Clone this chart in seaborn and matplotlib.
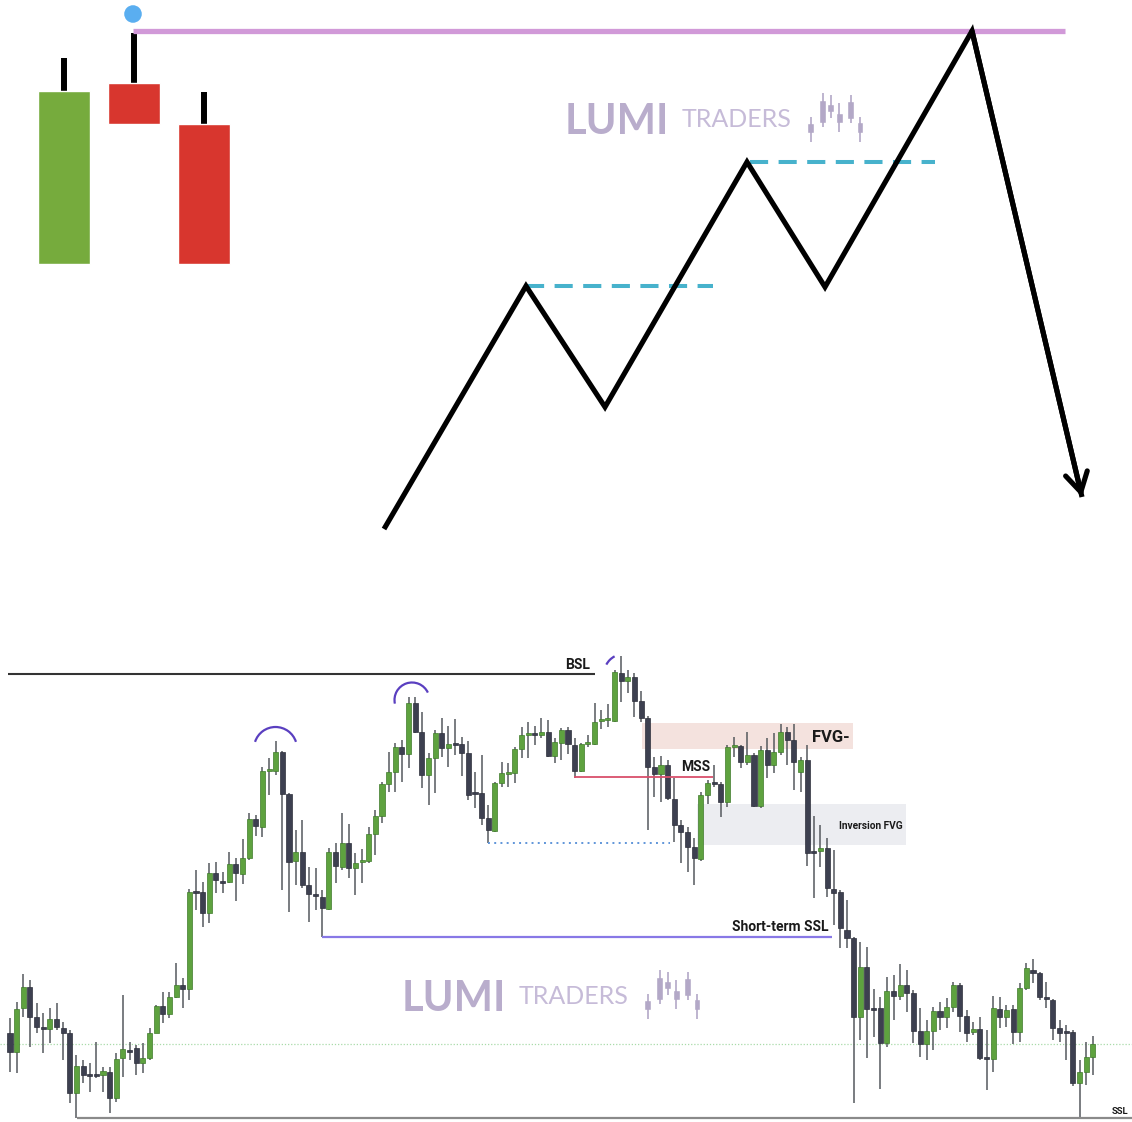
import matplotlib
matplotlib.use("Agg")
import matplotlib.pyplot as plt
import seaborn as sns
import numpy as np
import pandas as pd
from matplotlib.patches import Arc, Rectangle

# ---------------- top schematic data ----------------
sketch_x = [64, 134, 204]
sketch_open = [376, 557, 516]
sketch_close = [549, 516, 376]
sketch_high = [582, 607, 548]
sketch_low = [376, 516, 376]

zigzag_x = [384, 526, 605, 747, 825, 972, 1082]
zigzag_y = [111, 354, 233, 478, 353, 609, 143]

high_level = 609
high_level_span = [133, 1065]
sweep_dot_x = [133]
sweep_dot_y = [626]
eq_levels = [354, 478]
eq_spans = [[526, 713], [750, 935]]

# ---------------- bottom candlestick data ----------------
opens = [97, 78, 122, 143, 113, 103, 101, 111, 102, 97,
         37, 64, 56, 55, 55, 58, 32, 72, 79, 82,
         67, 72, 97, 124, 116, 133, 145, 141, 238, 238,
         217, 257, 249, 248, 266, 256, 272, 311, 303, 359,
         359, 378, 336, 269, 278, 245, 235, 233, 221, 278,
         263, 287, 262, 268, 269, 296, 314, 346, 358, 383,
         376, 427, 398, 355, 372, 397, 382, 386, 386, 377,
         337, 337, 312, 299, 347, 356, 357, 381, 395, 396,
         395, 398, 374, 387, 400, 385, 359, 386, 386, 409,
         410, 409, 457, 449, 453, 429, 412, 363, 356, 365,
         331, 305, 298, 283, 271, 335, 347, 346, 328, 383,
         384, 368, 375, 324, 380, 365, 378, 398, 390, 358,
         370, 278, 279, 282, 241, 238, 200, 192, 113, 163,
         122, 122, 87, 139, 134, 145, 137, 99, 86, 99,
         119, 113, 123, 145, 114, 98, 101, 73, 71, 121,
         113, 121, 98, 142, 160, 157, 133, 130, 102, 99,
         98, 47, 58, 73]
closes = [78, 121, 143, 113, 103, 101, 111, 103, 97, 37,
          64, 55, 54, 54, 59, 32, 71, 81, 78, 67,
          72, 97, 124, 116, 133, 145, 141, 238, 237, 217,
          257, 250, 247, 266, 257, 272, 311, 304, 359, 360,
          378, 336, 268, 278, 245, 236, 234, 222, 278, 264,
          287, 262, 267, 269, 296, 314, 346, 358, 383, 376,
          427, 398, 355, 372, 397, 382, 386, 385, 377, 335,
          336, 312, 300, 347, 357, 357, 381, 395, 396, 395,
          398, 374, 388, 400, 386, 359, 386, 387, 408, 410,
          411, 458, 449, 453, 429, 412, 363, 356, 365, 332,
          305, 298, 283, 272, 335, 347, 346, 328, 383, 384,
          368, 375, 324, 380, 365, 378, 398, 390, 368, 370,
          277, 277, 282, 242, 237, 202, 192, 113, 163, 121,
          120, 87, 139, 134, 145, 137, 99, 86, 99, 119,
          113, 123, 145, 114, 97, 101, 72, 71, 122, 113,
          120, 98, 142, 162, 157, 133, 131, 102, 97, 97,
          47, 58, 73, 86]
highs = [112, 128, 156, 150, 127, 117, 122, 127, 108, 100,
         75, 70, 67, 88, 63, 63, 77, 135, 88, 85,
         87, 102, 125, 138, 138, 167, 152, 241, 260, 248,
         267, 268, 258, 278, 272, 291, 317, 315, 363, 372,
         389, 379, 337, 300, 310, 263, 262, 240, 282, 287,
         317, 306, 277, 281, 303, 320, 348, 378, 387, 390,
         433, 433, 418, 377, 400, 412, 404, 411, 393, 389,
         358, 375, 325, 348, 368, 367, 383, 403, 408, 404,
         412, 410, 392, 402, 403, 392, 387, 395, 427, 420,
         426, 460, 474, 460, 457, 439, 414, 373, 374, 370,
         352, 310, 303, 292, 338, 350, 365, 348, 385, 393,
         385, 398, 377, 384, 392, 397, 406, 403, 406, 373,
         385, 314, 305, 292, 280, 240, 230, 193, 188, 183,
         141, 133, 153, 155, 166, 160, 140, 122, 110, 123,
         128, 132, 148, 147, 120, 108, 113, 100, 134, 133,
         125, 125, 147, 167, 171, 158, 148, 131, 110, 105,
         100, 70, 88, 94]
lows = [58, 57, 113, 83, 97, 77, 87, 100, 70, 27,
        12, 47, 38, 52, 38, 17, 28, 53, 70, 55,
        57, 70, 97, 107, 112, 132, 122, 130, 220, 203,
        207, 237, 237, 247, 229, 246, 270, 294, 293, 335,
        355, 240, 218, 245, 242, 208, 220, 193, 220, 247,
        260, 252, 235, 247, 267, 275, 307, 338, 338, 348,
        362, 397, 342, 325, 337, 373, 363, 375, 354, 330,
        322, 305, 287, 298, 343, 343, 347, 372, 372, 385,
        392, 373, 367, 370, 376, 352, 358, 383, 385, 401,
        403, 408, 428, 437, 413, 408, 300, 333, 328, 330,
        288, 267, 258, 245, 269, 326, 343, 313, 323, 373,
        362, 365, 323, 322, 352, 357, 375, 365, 340, 338,
        264, 232, 263, 233, 205, 182, 182, 27, 90, 72,
        93, 41, 83, 110, 130, 118, 87, 73, 70, 80,
        100, 102, 118, 98, 88, 95, 70, 40, 58, 102,
        103, 86, 88, 140, 147, 130, 122, 90, 88, 70,
        44, 12, 45, 55]

# annotation levels (price units of the lower chart)
bsl_level = 456
mss_level = 353
fvg_zone = [381, 407]
inv_fvg_zone = [285, 326]
dotted_low_level = 287
st_ssl_level = 193
ssl_level = 12
mid_level = 86

# logo mini candles
logo_x = [10.7, 22.7, 30.7, 39.3, 50.7, 60]
logo_body_lo = [13, 23, 34, 23, 27, 13]
logo_body_hi = [23, 46, 42, 33, 45, 24]
logo_wick_lo = [4, 19, 28, 14, 23, 4]
logo_wick_hi = [29, 53, 51, 43, 51, 29]

# ---------------- figure ----------------
sns.set_theme(style="white")
plt.rcParams['font.family'] = ['Roboto', 'DejaVu Sans']

W, H = 1132, 1122
fig = plt.figure(figsize=(W / 100, H / 100), dpi=100)
fig.patch.set_facecolor("white")

# ---- top panel ----
axt = fig.add_axes([0, 482 / H, 1, 640 / H])
axt.set_xlim(0, W)
axt.set_ylim(0, 640)
axt.axis("off")

s_df = pd.DataFrame({"x": sketch_x, "o": sketch_open, "c": sketch_close,
                     "h": sketch_high, "l": sketch_low})
s_df["up"] = s_df["c"] >= s_df["o"]
for _, r in s_df.iterrows():
    top = max(r.o, r.c)
    axt.vlines(r.x, top, r.h, color="black", lw=4.3, zorder=2)
    axt.bar(r.x, abs(r.c - r.o), bottom=min(r.o, r.c), width=52,
            color="#76ab3d" if r.up else "#d8362e", zorder=3)

axt.hlines(high_level, high_level_span[0], high_level_span[1],
           color="#d199d8", lw=3.8, zorder=2)
sns.scatterplot(x=sweep_dot_x, y=sweep_dot_y, ax=axt, s=160, color="#5aaef0",
                edgecolor="none", zorder=5, legend=False)

for lvl, (x0, x1) in zip(eq_levels, eq_spans):
    axt.hlines(lvl, x0, x1, color="#47b2cc", lw=2.9, linestyles=(0, (4.5, 2.6)),
               zorder=2)

zz = pd.DataFrame({"x": zigzag_x, "y": zigzag_y})
sns.lineplot(data=zz, x="x", y="y", ax=axt, sort=False, color="black", lw=3.7,
             zorder=4, legend=False)
for ln in axt.get_lines():
    ln.set_solid_joinstyle("miter")
    ln.set_solid_capstyle("butt")
axt.annotate("", xy=(zigzag_x[-1], zigzag_y[-1]), xytext=(zigzag_x[-2], zigzag_y[-2]),
             arrowprops=dict(arrowstyle="->, head_length=0.55, head_width=0.32",
                             color="black", lw=3.7, mutation_scale=25,
                             shrinkA=0, shrinkB=0), zorder=4)
axt.set_xlabel("")
axt.set_ylabel("")

# ---- bottom panel ----
axb = fig.add_axes([0, 0, 1, 467 / H])
n = len(opens)
idx = np.arange(n)
px_per = 6.643
axb.set_xlim(-10 / px_per, (W - 10) / px_per)
axb.set_ylim(8, 475)
axb.axis("off")

df = pd.DataFrame({"i": idx, "o": opens, "h": highs, "l": lows, "c": closes})
df["up"] = df["c"] > df["o"]
df["bottom"] = df[["o", "c"]].min(axis=1)
df["height"] = (df["c"] - df["o"]).abs().clip(lower=1.6)

axb.vlines(df["i"], df["l"], df["h"], color="#55595e", lw=1.1, zorder=3)
colors = np.where(df["up"], "#5ea23f", "#3d4050")
edges = np.where(df["up"], "#3f7a2b", "#2d2f3b")
axb.bar(df["i"], df["height"], bottom=df["bottom"], width=0.76, color=colors,
        edgecolor=edges, linewidth=0.5, zorder=4)

def xi(px):
    return (px - 10) / px_per

# zones
axb.add_patch(Rectangle((xi(642), fvg_zone[0]), xi(853) - xi(642),
                        fvg_zone[1] - fvg_zone[0], color="#f4e2de", zorder=0, lw=0))
axb.add_patch(Rectangle((xi(697), inv_fvg_zone[0]), xi(906) - xi(697),
                        inv_fvg_zone[1] - inv_fvg_zone[0], color="#ecedf1", zorder=0, lw=0))

# levels
axb.hlines(mid_level, xi(0), xi(W), color="#a9dba9", lw=0.9,
           linestyles=(0, (1, 1.5)), zorder=1)
axb.hlines(bsl_level, xi(8), xi(595), color="#333333", lw=1.5, zorder=5)
axb.hlines(mss_level, xi(574), xi(713), color="#d94f6b", lw=1.3, zorder=5)
axb.hlines(dotted_low_level, xi(488), xi(670), color="#5f95d9", lw=1.4,
           linestyles=(0, (1, 2.2)), zorder=5)
axb.hlines(st_ssl_level, xi(322), xi(832), color="#8878e6", lw=1.6, zorder=5)
axb.hlines(ssl_level, xi(77), xi(W), color="#8a8a8a", lw=1.6, zorder=5)

# arcs (angles given in screen degrees, converted to the stretched data space)
arc_col = "#5a3fc0"

def screen_arc(cx_px, cy_px, r_px, a1, a2):
    def conv(a):
        t = np.radians(a)
        return np.degrees(np.arctan2(np.sin(t), np.cos(t) / px_per)) % 360
    axb.add_patch(Arc((xi(cx_px), 1130 - cy_px), 2 * r_px / px_per, 2 * r_px,
                      theta1=conv(a1), theta2=conv(a2), color=arc_col, lw=1.6, zorder=6))

screen_arc(275.5, 748.5, 21.5, 18, 162)
screen_arc(412, 700, 17.5, 25, 192)
screen_arc(624, 674, 20, 118, 152)

# labels
lab = dict(fontweight="bold", color="#1a1a1a", zorder=7)
axb.text(xi(590), 1130 - 665, "BSL", ha="right", va="center", fontsize=10, **lab)
axb.text(xi(696), 1130 - 767, "MSS", ha="center", va="center", fontsize=10, **lab)
axb.text(xi(812), 1130 - 737, "FVG-", ha="left", va="center", fontsize=12, **lab)
axb.text(xi(839), 1130 - 826, "Inversion FVG", ha="left", va="center", fontsize=7.3, **lab)
axb.text(xi(828), 1130 - 927, "Short-term SSL", ha="right", va="center", fontsize=10, **lab)
axb.text(xi(1128), 1130 - 1112, "SSL", ha="right", va="center", fontsize=6.8, **lab)

# ---- watermark logos ----
def draw_logo(x_px, y_px):
    fig.text(x_px / W, 1 - y_px / H, "LUMI", fontsize=30, fontweight="bold",
             color="#b9adcc", ha="left", va="baseline", family=["Lato", "DejaVu Sans"])
    fig.text((x_px + 117) / W, 1 - (y_px - 7) / H, "TRADERS", fontsize=18,
             fontweight="normal", color="#c6bbd8", ha="left", va="baseline",
             family=["Lato", "DejaVu Sans"])
    ia = fig.add_axes([(x_px + 235) / W, 1 - (y_px + 12) / H, 70 / W, 58 / H])
    ia.set_xlim(0, 70)
    ia.set_ylim(0, 58)
    ia.axis("off")
    ia.vlines(logo_x, logo_wick_lo, logo_wick_hi, color="#b3a8c7", lw=1.2)
    ia.bar(logo_x, np.array(logo_body_hi) - np.array(logo_body_lo), bottom=logo_body_lo,
           width=6.5, color="#b3a8c7")

draw_logo(565, 134)
draw_logo(402, 1011)

fig.savefig("out.png", dpi=100, facecolor="white")
